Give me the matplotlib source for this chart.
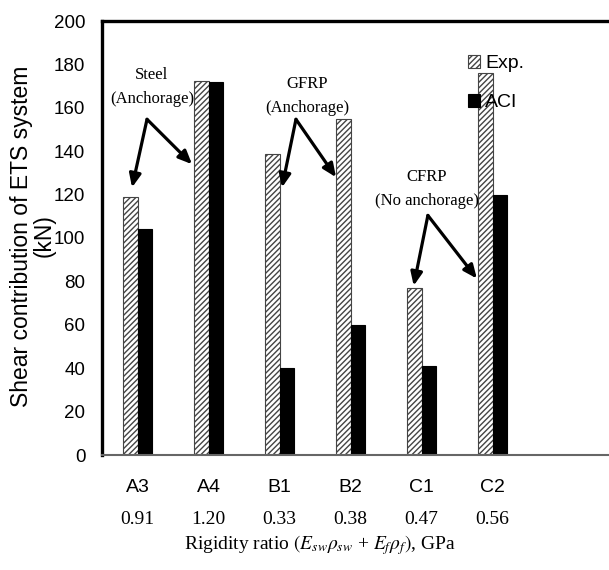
import numpy as np
import matplotlib
matplotlib.use("Agg")
import matplotlib.pyplot as plt

plt.rcParams['font.family'] = ['Liberation Sans', 'DejaVu Sans']
plt.rcParams['mathtext.fontset'] = 'stix'
plt.rcParams['hatch.linewidth'] = 1.0

# data
beams = ['A3', 'A4', 'B1', 'B2', 'C1', 'C2']
rigidity = ['0.91', '1.20', '0.33', '0.38', '0.47', '0.56']
exp_vals = [119, 172.5, 138.5, 155, 77, 176]
aci_vals = [104, 172, 40, 60, 41, 120]

serif = {'family': 'Liberation Serif', 'size': 12, 'color': 'black'}

fig = plt.figure(figsize=(6.09, 5.70), dpi=100)
ax = fig.add_axes([102/609, 1 - 455/570, 1 - 102/609, (455 - 21)/570])

x = np.arange(len(beams))
w = 0.205
ax.bar(x - w/2, exp_vals, w, color='white', edgecolor='#444444', hatch='//////',
       linewidth=0.8, label='Exp.')
ax.bar(x + w/2, aci_vals, w, color='black', edgecolor='black', linewidth=0.8, label='ACI')

ax.set_ylim(0, 200)
ax.set_xlim(-0.5, -0.5 + 507/71)
ax.set_yticks(np.arange(0, 201, 20))
ax.tick_params(axis='y', length=0, pad=12, labelsize=13.5)
ax.set_xticks([])

for s in ['left', 'top']:
    ax.spines[s].set_linewidth(2.4)
ax.spines['bottom'].set_linewidth(1.5)
ax.spines['bottom'].set_color('#666666')
ax.spines['right'].set_visible(False)

# category labels and rigidity values
for i in range(len(beams)):
    ax.text(x[i], -0.074, beams[i], transform=ax.get_xaxis_transform(),
            ha='center', va='center', fontsize=14)
    ax.text(x[i], -0.148, rigidity[i], transform=ax.get_xaxis_transform(),
            ha='center', va='center', fontdict={'family': 'Liberation Serif', 'size': 14})

fig.text(320/609, 1 - 545/570, r'Rigidity ratio $(E_{sw}\rho_{sw}$ + $E_f\rho_f)$, GPa',
         ha='center', va='center', fontdict={'family': 'Liberation Serif', 'size': 14})
fig.text(33/609, 1 - 236/570, 'Shear contribution of ETS system\n(kN)', rotation=90,
         ha='center', va='center', fontsize=16.5, linespacing=1.0)

# annotations with arrows
notes = [
    ('Steel\n(Anchorage)', (0.204, 169.5), (0.134, 154.7), [(-0.077, 123.3), (0.768, 134)]),
    ('GFRP\n(Anchorage)', (2.387, 165.5), (2.232, 154.7), [(2.035, 123.3), (2.796, 128)]),
    ('CFRP\n(No anchorage)', (4.077, 122.5), (4.09, 110.4), [(3.89, 78), (4.78, 81.3)]),
]
for txt, tpos, origin, targets in notes:
    ax.text(tpos[0], tpos[1], txt, ha='center', va='center', fontdict=serif, linespacing=1.65)
    for t in targets:
        ax.annotate('', xy=t, xytext=origin,
                    arrowprops=dict(arrowstyle='-|>,head_length=0.8,head_width=0.35',
                                    color='black', lw=2.3, shrinkA=0, shrinkB=0))

leg = ax.legend(loc='upper left', bbox_to_anchor=(358/507, 0.94), frameon=False,
                fontsize=14, handlelength=0.65, handleheight=0.65, handletextpad=0.25,
                labelspacing=1.1, borderaxespad=0)

fig.savefig('out.png', dpi=100)
